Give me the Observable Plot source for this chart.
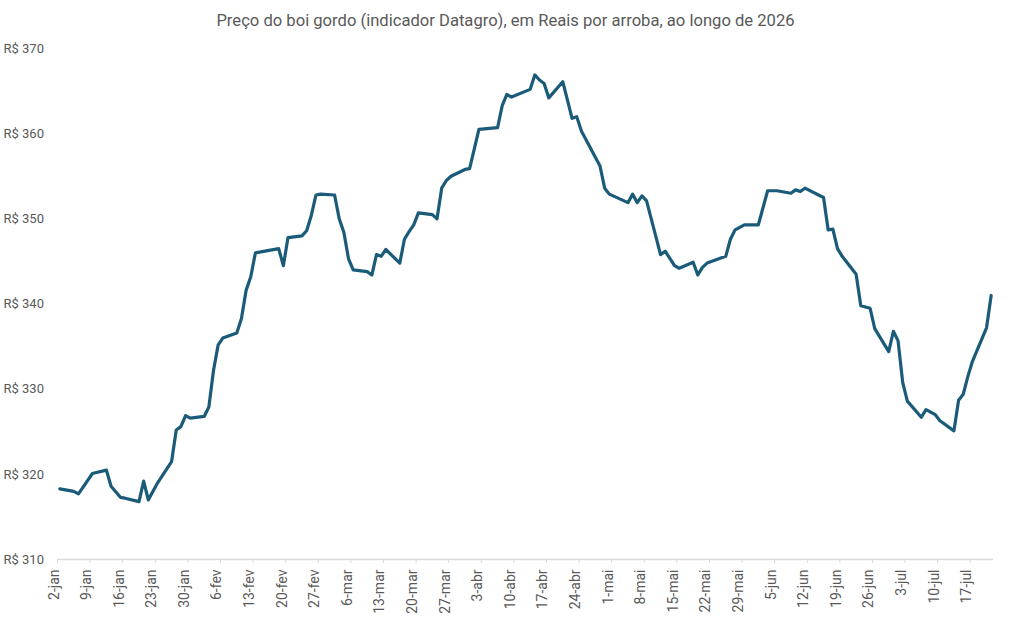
<!DOCTYPE html>
<html lang="pt-BR">
<head>
<meta charset="utf-8">
<script src="https://cdn.jsdelivr.net/npm/d3@7"></script>
<script src="https://cdn.jsdelivr.net/npm/@observablehq/plot@0.6"></script>
<style>
  html, body { margin: 0; padding: 0; background: #ffffff; }
  #title {
    height: 36px; line-height: 42px; text-align: center;
    font-family: Roboto, "Open Sans", sans-serif; font-size: 16.6px; color: #595959;
  }
  #chart svg { display: block; }
</style>
</head>
<body>
<div id="title">Preço do boi gordo (indicador Datagro), em Reais por arroba, ao longo de 2026</div>
<div id="chart"></div>
<script>
// Indicador Datagro do boi gordo, R$/@, pregões de 2026
const dates = [
  "2026-01-02","2026-01-05","2026-01-06","2026-01-09","2026-01-12","2026-01-13","2026-01-15","2026-01-16",
  "2026-01-19","2026-01-20","2026-01-21","2026-01-23","2026-01-26","2026-01-27","2026-01-28","2026-01-29",
  "2026-01-30","2026-02-02","2026-02-03","2026-02-04","2026-02-05","2026-02-06","2026-02-09","2026-02-10",
  "2026-02-11","2026-02-12","2026-02-13","2026-02-18","2026-02-19","2026-02-20","2026-02-23","2026-02-24",
  "2026-02-25","2026-02-26","2026-02-27","2026-03-02","2026-03-03","2026-03-04","2026-03-05","2026-03-06",
  "2026-03-09","2026-03-10","2026-03-11","2026-03-12","2026-03-13","2026-03-16","2026-03-17","2026-03-18",
  "2026-03-19","2026-03-20","2026-03-23","2026-03-24","2026-03-25","2026-03-26","2026-03-27","2026-03-30",
  "2026-03-31","2026-04-02","2026-04-06","2026-04-07","2026-04-08","2026-04-09","2026-04-13","2026-04-14",
  "2026-04-15","2026-04-16","2026-04-17","2026-04-20","2026-04-22","2026-04-23","2026-04-24","2026-04-28",
  "2026-04-29","2026-04-30","2026-05-04","2026-05-05","2026-05-06","2026-05-07","2026-05-08","2026-05-11",
  "2026-05-12","2026-05-14","2026-05-15","2026-05-18","2026-05-19","2026-05-20","2026-05-21","2026-05-25",
  "2026-05-26","2026-05-27","2026-05-28","2026-05-29","2026-06-01","2026-06-03","2026-06-05","2026-06-08",
  "2026-06-09","2026-06-10","2026-06-11","2026-06-15","2026-06-16","2026-06-17","2026-06-18","2026-06-19",
  "2026-06-22","2026-06-23","2026-06-25","2026-06-26","2026-06-29","2026-06-30","2026-07-01","2026-07-02",
  "2026-07-03","2026-07-06","2026-07-07","2026-07-08","2026-07-09","2026-07-10","2026-07-13","2026-07-14",
  "2026-07-15","2026-07-16","2026-07-17","2026-07-20","2026-07-21"
];
const prices = [
  318.3, 318.0, 317.7, 320.1, 320.5, 318.6, 317.3, 317.2,
  316.8, 319.2, 317.0, 319.0, 321.5, 325.2, 325.6, 326.9,
  326.6, 326.8, 327.9, 332.2, 335.2, 336.0, 336.6, 338.3,
  341.6, 343.2, 346.0, 346.5, 344.5, 347.8, 348.0, 348.6,
  350.4, 352.8, 352.9, 352.8, 350.0, 348.4, 345.3, 344.0,
  343.8, 343.4, 345.8, 345.6, 346.4, 344.8, 347.6, 348.5,
  349.3, 350.7, 350.5, 350.0, 353.6, 354.5, 355.0, 355.8,
  355.9, 360.5, 360.7, 363.3, 364.6, 364.3, 365.2, 366.9,
  366.3, 365.9, 364.2, 366.1, 361.8, 362.0, 360.3, 356.2,
  353.6, 352.9, 351.9, 352.9, 351.9, 352.7, 352.1, 345.8,
  346.2, 344.5, 344.2, 344.9, 343.4, 344.3, 344.8, 345.6,
  347.6, 348.7, 349.0, 349.3, 349.3, 353.3, 353.3, 353.0,
  353.4, 353.2, 353.6, 352.5, 348.7, 348.8, 346.5, 345.6,
  343.5, 339.8, 339.5, 337.1, 334.4, 336.8, 335.7, 330.8,
  328.6, 326.7, 327.6, 327.3, 327.0, 326.3, 325.1, 328.7,
  329.4, 331.5, 333.3, 337.2, 341.0
];

// Semanas marcadas no eixo (sextas-feiras)
const tickDates = [
  "2026-01-02","2026-01-09","2026-01-16","2026-01-23","2026-01-30","2026-02-06","2026-02-13","2026-02-20",
  "2026-02-27","2026-03-06","2026-03-13","2026-03-20","2026-03-27","2026-04-03","2026-04-10","2026-04-17",
  "2026-04-24","2026-05-01","2026-05-08","2026-05-15","2026-05-22","2026-05-29","2026-06-05","2026-06-12",
  "2026-06-19","2026-06-26","2026-07-03","2026-07-10","2026-07-17"
];
const monthNames = ["jan","fev","mar","abr","mai","jun","jul","ago","set","out","nov","dez"];
const yTicks = [310, 320, 330, 340, 350, 360, 370];

const parse = d3.utcParse("%Y-%m-%d");
const series = dates.map((d, i) => ({ date: parse(d), price: prices[i] }));
const ticks = tickDates.map(parse);
const fmtTick = d => `${d.getUTCDate()}-${monthNames[d.getUTCMonth()]}`;

const chart = Plot.plot({
  width: 1011,
  height: 594,
  marginLeft: 57,
  marginRight: 18,
  marginTop: 12,
  marginBottom: 71,
  style: { fontFamily: "Roboto, 'Open Sans', sans-serif", fontSize: "13px", color: "#595959", background: "#ffffff" },
  x: { type: "utc", domain: [parse("2026-01-02"), parse("2026-07-22")] },
  y: { domain: [310, 370], axis: null },
  marks: [
    Plot.ruleY([310], { stroke: "#d9d9d9", strokeWidth: 1.5 }),
    // marcas semanais do eixo horizontal (sem rótulos)
    Plot.axisX({ ticks, tickFormat: () => "", tickSize: 4, stroke: "#d9d9d9", label: null }),
    // rótulos semanais, girados
    Plot.text(ticks, {
      x: d => d, text: fmtTick, frameAnchor: "bottom", rotate: -90, textAnchor: "end",
      dy: 10, dx: 1, fill: "#595959", fontSize: 14
    }),
    Plot.text(yTicks, {
      y: d => d, text: d => `R$ ${d}`, frameAnchor: "left", textAnchor: "start",
      dx: -54, fill: "#595959", fontSize: 13
    }),
    // cada pregão é desenhado no meio do seu dia
    Plot.line(series, {
      x: d => d3.utcHour.offset(d.date, 12), y: "price",
      stroke: "#1b5b7a", strokeWidth: 3.2, strokeLinejoin: "round", strokeLinecap: "round"
    })
  ]
});
document.getElementById("chart").append(chart);
</script>
</body>
</html>
